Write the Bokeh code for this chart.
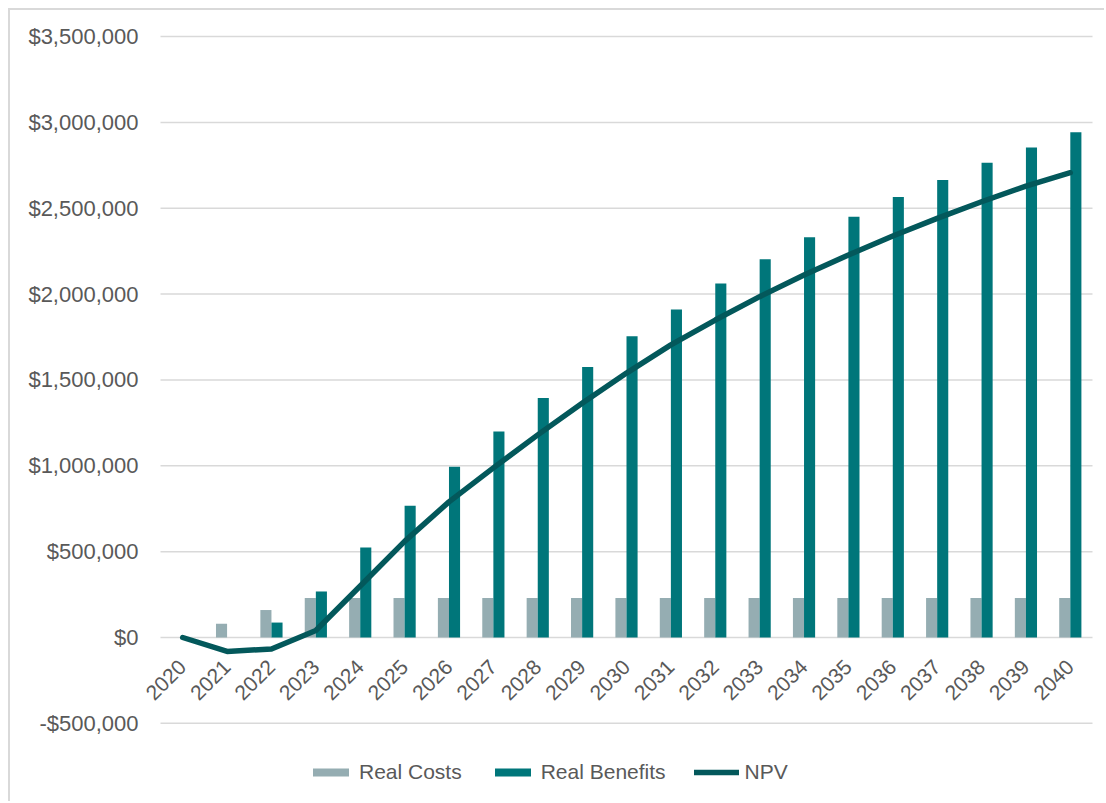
from math import pi
from bokeh.plotting import figure
from bokeh.models import (Range1d, FixedTicker, Legend, LegendItem,
                          ColumnDataSource)
from bokeh.transform import dodge
from bokeh.embed import file_html
from bokeh.resources import INLINE

years = [str(y) for y in range(2020, 2041)]
real_costs = [0, 80000, 160000] + [230000] * 18
real_benefits = [0, 0, 87000, 268000, 524000, 767000, 994000, 1200000, 1395000,
                 1575000, 1754000, 1911000, 2061000, 2203000, 2331000, 2451000,
                 2565000, 2664000, 2765000, 2854000, 2942000]
npv = [0, -81000, -67000, 41000, 300000, 560000, 790000, 988000, 1180000,
       1364000, 1540000, 1704000, 1849000, 1985000, 2111000, 2228000, 2338000,
       2441000, 2538000, 2629000, 2707000]
y_ticks = [-500000, 0, 500000, 1000000, 1500000, 2000000, 2500000, 3000000, 3500000]
y_tick_labels = ["-$500,000", "$0", "$500,000", "$1,000,000", "$1,500,000",
                 "$2,000,000", "$2,500,000", "$3,000,000", "$3,500,000"]

COST_COLOR = "#95ADB2"
BEN_COLOR = "#00767A"
NPV_COLOR = "#03585B"
TEXT_COLOR = "#595959"
GRID_COLOR = "#D9D9D9"
FONT = "Liberation Sans"

idx = list(range(len(years)))
n = len(years)
source = ColumnDataSource(dict(idx=idx, year=years, costs=real_costs,
                               benefits=real_benefits, npv=npv))

# The plotting frame covers the whole figure so that the rotated year labels
# and the legend (which sit outside the value area) are not clipped.
p = figure(x_range=Range1d(-3.88, n - 0.5 + 0.3155),
           y_range=Range1d(-966800, 3651700),
           width=1096, height=793, output_backend="svg", toolbar_location=None,
           min_border=0)

p.styles = {"border-top": "2px solid #D9D9D9", "border-left": "2px solid #D9D9D9"}
p.margin = (8, 0, 0, 8)

p.outline_line_color = None
p.xgrid.visible = False
p.ygrid.visible = False

# horizontal gridlines spanning only the category area
p.segment(x0=[-0.5] * len(y_ticks), x1=[n - 0.5] * len(y_ticks),
          y0=y_ticks, y1=y_ticks, line_color=GRID_COLOR, line_width=1.5)

p.yaxis.fixed_location = -0.5
p.yaxis.ticker = FixedTicker(ticks=y_ticks)
p.yaxis.major_label_overrides = dict(zip(y_ticks, y_tick_labels))
p.yaxis.axis_line_color = None
p.yaxis.major_tick_line_color = None
p.yaxis.minor_tick_line_color = None
p.yaxis.major_label_standoff = 16
p.yaxis.major_label_text_font = FONT
p.yaxis.major_label_text_font_size = "22px"
p.yaxis.major_label_text_color = TEXT_COLOR

p.xaxis.fixed_location = 0
p.xaxis.ticker = FixedTicker(ticks=idx)
p.xaxis.major_label_overrides = dict(zip(idx, years))
p.xaxis.axis_line_color = None
p.xaxis.major_tick_line_color = None
p.xaxis.minor_tick_line_color = None
p.xaxis.major_label_orientation = pi / 4
p.xaxis.major_label_standoff = 20
p.xaxis.major_label_text_font = FONT
p.xaxis.major_label_text_font_size = "21px"
p.xaxis.major_label_text_color = TEXT_COLOR

r_cost = p.vbar(x=dodge("idx", -0.125), top="costs", width=0.25,
                source=source, fill_color=COST_COLOR, line_color=None)
r_ben = p.vbar(x=dodge("idx", 0.125), top="benefits", width=0.25,
               source=source, fill_color=BEN_COLOR, line_color=None)
r_npv = p.line(x="idx", y="npv", source=source, line_color=NPV_COLOR,
               line_width=5.5, line_join="round", line_cap="round")

legend = Legend(items=[LegendItem(label="Real Costs", renderers=[r_cost]),
                       LegendItem(label="Real Benefits", renderers=[r_ben]),
                       LegendItem(label="NPV", renderers=[r_npv])],
                orientation="horizontal", location=(298, 19),
                border_line_color=None, background_fill_alpha=0,
                label_text_font=FONT, label_text_font_size="21px",
                label_text_color=TEXT_COLOR, glyph_width=45, glyph_height=10,
                label_standoff=6, spacing=28, padding=0, margin=0)
p.add_layout(legend, "center")

open("out.html", "w").write(file_html(p, INLINE))
